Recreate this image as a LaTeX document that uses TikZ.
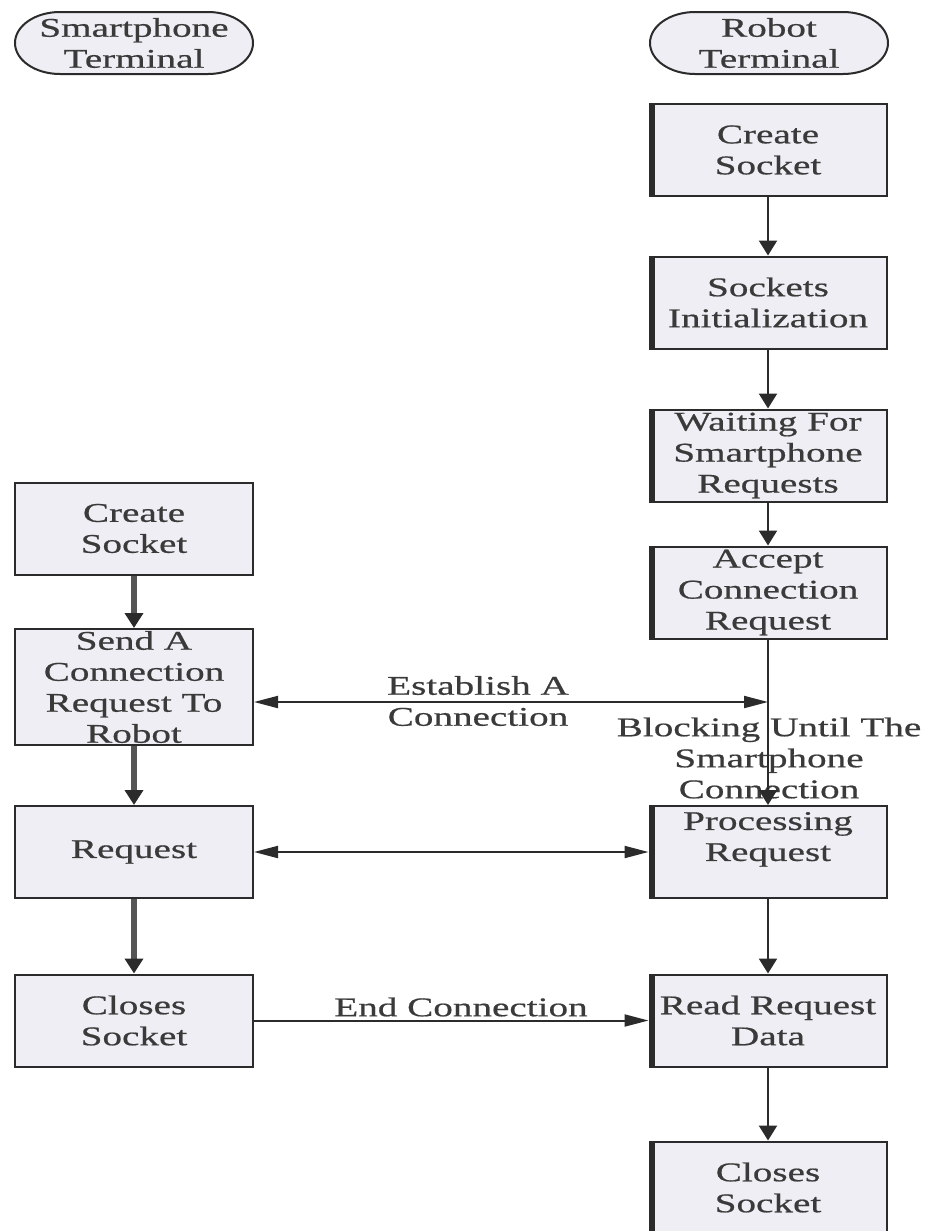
\documentclass[tikz,border=0pt]{standalone}
\usepackage{fontspec}
\setmainfont{Liberation Serif}[FakeStretch=1.45,FakeBold=0.6]
\usetikzlibrary{arrows.meta}
\definecolor{boxfill}{HTML}{EEEEF4}
\definecolor{edge}{HTML}{2B2B2B}
\definecolor{txt}{HTML}{3A3A3A}
\definecolor{shaft}{HTML}{555555}

% stadium outline around a centre coordinate
\newcommand\termshape[1]{%
  \draw[termline] ([xshift=-37pt,yshift=15.5pt]#1) -- ([xshift=37pt,yshift=15.5pt]#1)
    arc[start angle=90,end angle=-90,x radius=22.5pt,y radius=15.5pt]
    -- ([xshift=-37pt,yshift=-15.5pt]#1)
    arc[start angle=270,end angle=90,x radius=22.5pt,y radius=15.5pt] -- cycle;}

\begin{document}
\begin{tikzpicture}[x=0.5pt,y=-0.5pt,
  every node/.style={font=\fontsize{13.5pt}{15.5pt}\selectfont, text=txt, align=center, inner sep=0pt},
  termline/.style={draw=edge, fill=boxfill, line width=1pt},
  proc/.style={draw=edge, fill=boxfill, line width=1pt, minimum width=119pt, minimum height=46pt},
  robotproc/.style={proc, minimum width=118.5pt,
    path picture={\fill[edge] (path picture bounding box.north west) rectangle ([xshift=2.6pt]path picture bounding box.south west);}},
  vflow/.style={draw=edge, line width=1.2pt, -{Triangle[length=7.5pt,width=9pt]}},
  lflow/.style={draw=shaft, line width=2.8pt, -{Triangle[length=7.5pt,width=9pt,color=edge]}},
  hflow/.style={draw=edge, line width=1pt, -{Triangle[length=12pt,width=6pt]}},
  hboth/.style={draw=edge, line width=1pt, {Triangle[length=12pt,width=6pt]}-{Triangle[length=12pt,width=6pt]}}
]
\useasboundingbox (0,0) rectangle (932,1231);

% terminals
\coordinate (phonec) at (134,43);
\coordinate (robotc) at (769,43);
\termshape{phonec}
\termshape{robotc}
\node (phone) at (phonec) {Smartphone\\Terminal};
\node (robot) at (robotc) {Robot\\Terminal};

% robot side
\node[robotproc] (create2) at (768,150) {Create\\Socket};
\node[robotproc] (init) at (768,302.5) {Sockets\\Initialization};
\node[robotproc] (wait) at (768,455.5) {Waiting For\\Smartphone\\Requests};
\node[robotproc] (accept) at (768,592.5) {Accept\\Connection\\Request};
\node[robotproc] (procr) at (768,852) {Processing\\Request\\\mbox{}};
\node[robotproc] (read) at (768,1020.5) {Read Request\\Data};
\node[robotproc] (closer) at (768,1187.5) {Closes\\Socket};

% smartphone side
\node[proc] (create1) at (134,528.5) {Create\\Socket};
\node[proc, minimum height=58pt] (send) at (134,687) {Send A\\Connection\\Request To\\Robot};
\node[proc] (request) at (134,852) {Request};
\node[proc] (closel) at (134,1020.5) {Closes\\Socket};

% labels
\node (estlbl) at (478,701) {Establish A\\Connection};
\node (blocklbl) at (769,758) {Blocking Until The\\Smartphone\\Connection};
\node (endlbl) at (461,1007) {End Connection};

% robot flow
\draw[vflow] (create2) -- (init);
\draw[vflow] (init) -- (wait);
\draw[vflow] (wait) -- (accept);
\draw[vflow] (accept) -- (procr);
\draw[vflow] (procr) -- (read);
\draw[vflow] (read) -- (closer);

% smartphone flow
\draw[lflow] (create1) -- (send);
\draw[lflow] (send) -- (request);
\draw[lflow] (request) -- (closel);

% exchanges between the two sides
\coordinate (sendport) at ([yshift=-7.5pt]send.east);
\coordinate (tapline) at (sendport -| accept);
\draw[hboth] (sendport) -- (tapline);
\draw[hboth] (request) -- (procr);
\draw[hflow] (closel) -- (read);
\end{tikzpicture}
\end{document}
